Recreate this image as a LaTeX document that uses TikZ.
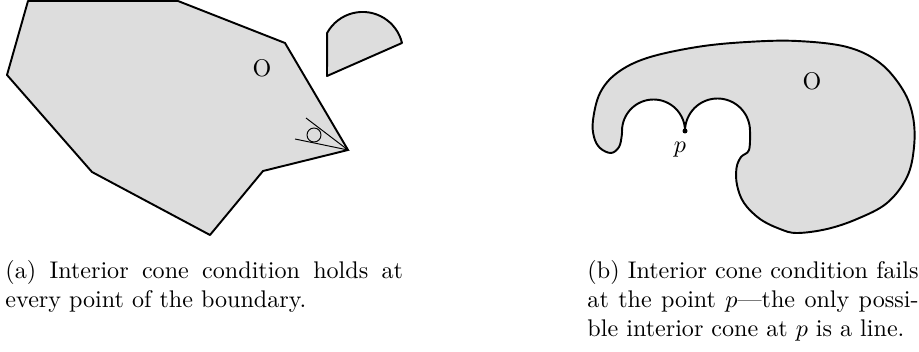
\documentclass[tikz,border=0pt]{standalone}
\usepackage{tikz}
\usetikzlibrary{positioning}
\usepackage{xcolor}
\definecolor{RegionGray}{RGB}{221,221,221}

\begin{document}
\begin{tikzpicture}[
x=0.415pt,y=-0.415pt,
region/.style={draw=black,fill=RegionGray,line width=0.8pt,line join=round},
coneline/.style={draw=black,line width=0.4pt},
setlabel/.style={inner sep=0pt,font=\normalsize},
caption/.style={inner sep=0pt,align=justify,font=\normalsize,anchor=north west}
]
\useasboundingbox (0,0) rectangle (919,352);
% (a) polygon with a cone at its sharp vertex
\draw[region] (28,1) -- (178,1) -- (285,43) -- (348,150) -- (263,171)
  -- (210,235) -- (92,172) -- (7,75) -- cycle;
\coordinate (apex) at (348,150);
\coordinate (coneup) at (306,118);
\coordinate (conelow) at (295,139);
\draw[coneline] (coneup) -- (apex) -- (conelow);
\draw[coneline] (314,135) circle[radius=7];
\node[setlabel] (oa) at (262,68) {O};
% free cone piece
\draw[region] (327,76) -- (402,43) arc[start angle=-13.5,end angle=-151.2,radius=40.5] -- cycle;
% (b) region with two bumps meeting at p
\coordinate (p) at (685,131);
\draw[region] (p) arc[start angle=180,end angle=360,radius=32.5]
  -- plot[smooth,tension=0.6] coordinates {(750,131) (749,150) (741,157) (736.5,168)
  (737,185) (744,203) (760,219) (780,229) (797,233) (827,229) (857,219) (887,203)
  (907,177) (914,147) (913,117) (903,90) (880,63) (847,47) (797,41) (747,42)
  (697,47) (647,58) (617,73) (600,93) (593,120) (594,137) (600,148) (611,153)
  (619,147) (621.7,136) (622,131)}
  arc[start angle=180,end angle=360,radius=31.5] -- cycle;
\fill (p) circle[radius=2.5];
\node[setlabel] (plabel) at (680,150) {$p$};
\node[setlabel] (ob) at (812,81) {O};
% captions
\node[caption,text width=165pt] (capa) at (5,260)
  {(a) Interior cone condition holds at\linebreak every point of the boundary.};
\node[caption,text width=137.4pt] (capb) at (587,260)
  {(b) Interior cone condition fails\linebreak at the point $p$---the only possi-\linebreak ble interior cone at $p$ is a line.};
\end{tikzpicture}
\end{document}
